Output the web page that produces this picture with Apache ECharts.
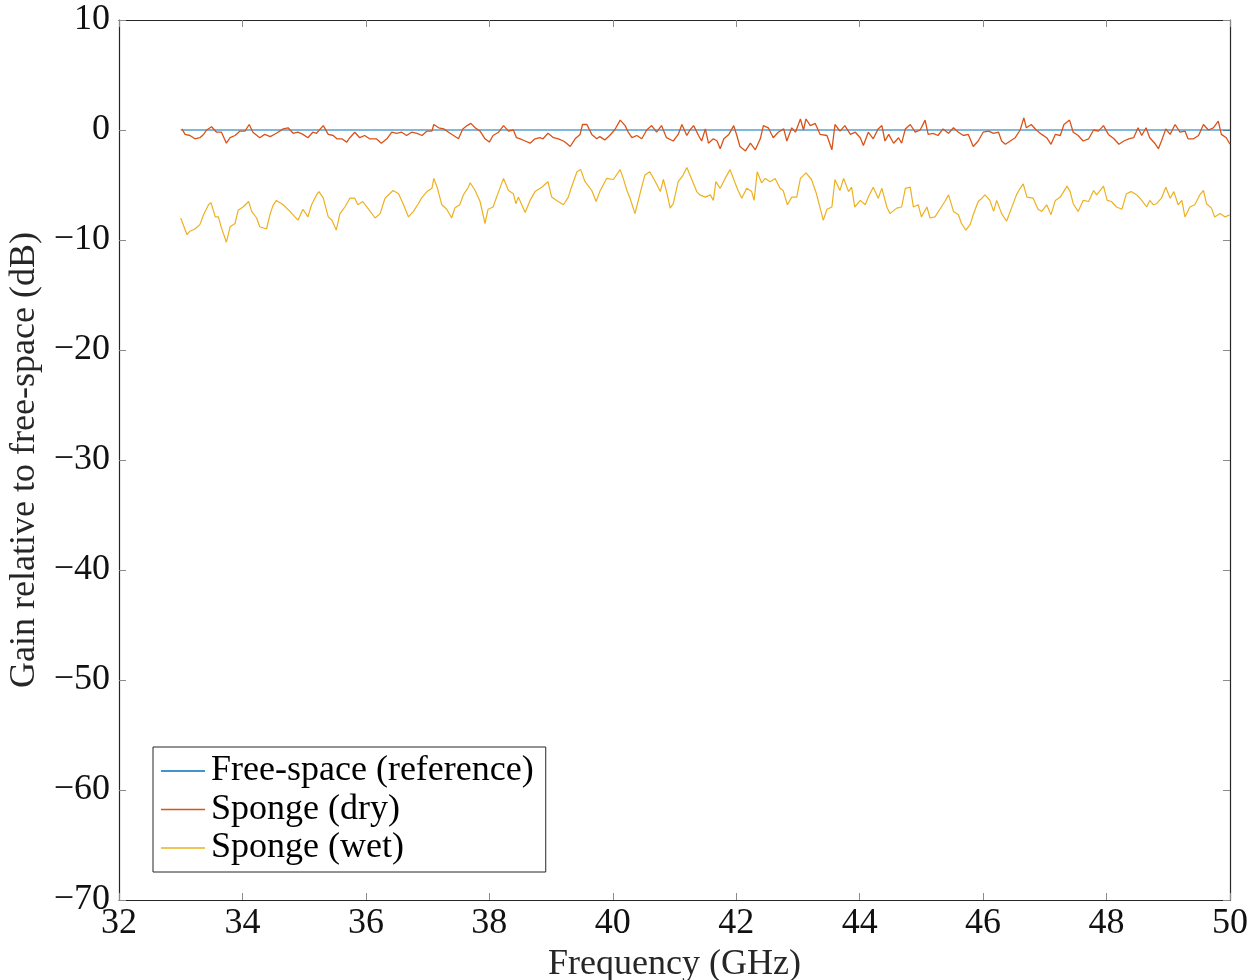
<!DOCTYPE html>
<html>
<head>
<meta charset="utf-8">
<title>Gain relative to free-space</title>
<script src="https://cdn.jsdelivr.net/npm/echarts@6/dist/echarts.min.js"></script>
<style>
  html, body { margin: 0; padding: 0; background: #fff; }
  #chart { width: 1249px; height: 980px; }
</style>
</head>
<body>
<div id="chart"></div>
<script>
// Free-space reference (flat 0 dB)
const freqRef = [33.0, 50.0];
const gainRef = [0, 0];

// Dry sponge, gain in dB
const freqDry = [33.02,33.07,33.15,33.23,33.31,33.37,33.42,33.50,33.58,33.66,33.74,33.80,33.88,33.96,34.04,34.11,34.17,34.28,34.36,34.45,34.55,34.66,34.74,34.82,34.90,34.98,35.06,35.14,35.20,35.31,35.39,35.47,35.53,35.61,35.69,35.74,35.82,35.90,35.98,36.06,36.17,36.25,36.34,36.42,36.50,36.58,36.66,36.74,36.83,36.91,36.99,37.07,37.10,37.18,37.26,37.34,37.42,37.50,37.57,37.64,37.70,37.77,37.85,37.93,38.00,38.06,38.15,38.23,38.31,38.39,38.44,38.50,38.58,38.66,38.74,38.82,38.87,38.95,39.04,39.12,39.20,39.25,39.31,39.39,39.47,39.51,39.58,39.66,39.74,39.79,39.87,39.95,40.03,40.12,40.20,40.25,40.31,40.39,40.47,40.55,40.63,40.71,40.79,40.87,40.98,41.06,41.12,41.20,41.25,41.31,41.39,41.44,41.50,41.55,41.63,41.69,41.74,41.80,41.88,41.96,42.01,42.06,42.15,42.23,42.31,42.39,42.44,42.52,42.60,42.68,42.77,42.82,42.90,42.96,43.04,43.09,43.13,43.20,43.28,43.36,43.47,43.55,43.60,43.68,43.76,43.85,43.93,44.01,44.06,44.14,44.22,44.30,44.36,44.41,44.47,44.55,44.63,44.68,44.74,44.82,44.90,44.98,45.06,45.11,45.19,45.27,45.35,45.44,45.52,45.60,45.68,45.76,45.84,45.92,46.00,46.09,46.17,46.25,46.30,46.36,46.44,46.52,46.60,46.66,46.70,46.78,46.86,46.95,47.03,47.10,47.17,47.25,47.31,47.40,47.46,47.54,47.62,47.71,47.79,47.87,47.95,48.03,48.12,48.20,48.28,48.36,48.44,48.51,48.57,48.64,48.70,48.78,48.84,48.89,48.96,49.03,49.11,49.19,49.27,49.32,49.41,49.49,49.57,49.65,49.73,49.81,49.86,49.94,50.00];
const gainDry = [0.1,-0.4,-0.5,-0.8,-0.7,-0.4,0.0,0.3,-0.2,-0.2,-1.2,-0.7,-0.5,-0.1,-0.1,0.5,-0.2,-0.7,-0.4,-0.6,-0.3,0.1,0.2,-0.3,-0.2,-0.4,-0.7,-0.2,-0.3,0.4,-0.4,-0.5,-0.8,-0.8,-1.1,-0.7,-0.2,-0.7,-0.5,-0.8,-0.8,-1.2,-0.8,-0.2,-0.3,-0.2,-0.5,-0.2,-0.3,-0.5,-0.1,-0.1,0.5,0.2,0.1,-0.2,-0.5,-0.8,0.1,0.4,0.6,0.2,-0.1,-0.8,-1.1,-0.5,-0.2,0.4,-0.1,0.0,-0.7,-0.8,-1.0,-1.2,-0.8,-0.7,-0.8,-0.3,-0.7,-0.8,-1.0,-1.2,-1.5,-0.8,-0.4,0.5,0.5,-0.4,-0.8,-0.6,-0.9,-0.5,0.0,0.9,0.4,-0.2,-0.7,-0.5,-0.8,0.0,0.4,-0.2,0.4,-0.7,-1.0,-0.4,0.5,-0.5,0.0,0.4,-0.5,-1.0,0.1,-1.2,-0.8,-1.0,-1.7,-0.8,-0.4,0.4,-0.5,-1.5,-1.9,-1.2,-1.8,-0.8,0.4,0.2,-0.7,-0.2,0.1,-1.0,0.2,-0.2,1.0,0.0,1.0,0.4,0.6,-0.4,-0.5,-1.8,0.5,-0.1,0.4,-0.4,-0.2,-0.7,-1.4,-0.2,-0.8,0.1,0.4,-1.0,-0.4,-1.2,-0.7,-1.2,0.1,0.5,-0.2,0.0,0.9,-0.4,-0.3,-0.5,0.1,-0.3,0.2,-0.2,-0.5,-0.4,-1.5,-1.0,-0.2,-0.1,-0.3,-0.2,-1.0,-1.3,-1.0,-0.7,0.0,1.1,0.2,0.5,0.0,-0.4,-0.7,-1.3,-0.4,-0.5,0.5,0.9,-0.2,-0.5,-1.0,-0.8,0.0,-0.1,0.4,-0.4,-0.8,-1.3,-1.0,-0.8,-0.7,0.2,-0.5,0.2,-0.7,-1.2,-1.7,-1.0,0.1,-0.4,0.5,-0.2,-0.1,-0.8,-0.8,-0.5,0.5,0.0,0.2,0.8,-0.4,-0.7,-1.3];

// Wet sponge, gain in dB
const freqWet = [33.00,33.10,33.15,33.23,33.31,33.37,33.45,33.49,33.56,33.61,33.66,33.74,33.80,33.88,33.93,34.01,34.10,34.15,34.23,34.28,34.39,34.45,34.50,34.55,34.66,34.77,34.85,34.90,34.98,35.06,35.12,35.20,35.24,35.31,35.39,35.45,35.52,35.58,35.66,35.74,35.82,35.87,35.95,36.03,36.15,36.23,36.31,36.44,36.53,36.61,36.69,36.77,36.85,36.90,36.99,37.07,37.10,37.16,37.23,37.31,37.39,37.44,37.52,37.58,37.66,37.69,37.77,37.85,37.93,37.98,38.06,38.15,38.23,38.31,38.39,38.43,38.47,38.58,38.66,38.74,38.85,38.95,39.01,39.09,39.20,39.28,39.33,39.42,39.48,39.55,39.66,39.73,39.79,39.90,40.01,40.12,40.17,40.23,40.28,40.36,40.44,40.52,40.60,40.69,40.77,40.82,40.88,40.93,40.98,41.06,41.14,41.20,41.28,41.36,41.41,41.50,41.58,41.63,41.67,41.74,41.82,41.90,41.98,42.03,42.09,42.17,42.25,42.29,42.34,42.41,42.47,42.55,42.63,42.71,42.76,42.83,42.90,42.98,43.04,43.13,43.22,43.30,43.36,43.41,43.47,43.55,43.60,43.68,43.74,43.82,43.87,43.92,44.01,44.09,44.14,44.22,44.30,44.36,44.44,44.49,44.60,44.68,44.74,44.82,44.87,44.95,45.00,45.09,45.14,45.22,45.30,45.38,45.44,45.52,45.60,45.65,45.72,45.79,45.84,45.92,45.98,46.03,46.11,46.17,46.22,46.30,46.38,46.46,46.54,46.60,46.65,46.71,46.81,46.89,46.95,47.03,47.10,47.17,47.25,47.36,47.41,47.46,47.54,47.62,47.71,47.79,47.84,47.95,48.01,48.08,48.16,48.25,48.32,48.40,48.49,48.57,48.65,48.70,48.76,48.81,48.89,48.96,49.03,49.09,49.16,49.22,49.27,49.35,49.43,49.51,49.57,49.62,49.70,49.75,49.84,49.92,50.00];
const gainWet = [-8.0,-9.5,-9.2,-9.0,-8.6,-7.7,-6.8,-6.6,-7.9,-7.9,-8.9,-10.2,-8.8,-8.5,-7.3,-7.0,-6.5,-7.4,-8.0,-8.8,-9.0,-7.6,-6.8,-6.4,-6.8,-7.4,-7.9,-8.2,-7.2,-7.9,-6.8,-5.9,-5.6,-6.2,-7.9,-8.2,-9.1,-7.6,-7.0,-6.2,-6.2,-6.8,-6.5,-7.1,-8.0,-7.6,-6.2,-5.5,-5.8,-6.8,-7.9,-7.4,-6.7,-6.2,-5.6,-5.3,-4.4,-5.3,-6.8,-7.2,-8.0,-7.1,-6.8,-5.9,-5.2,-4.8,-5.5,-6.5,-8.5,-7.2,-7.0,-5.6,-4.4,-5.5,-5.8,-6.7,-6.1,-7.5,-6.4,-5.6,-5.2,-4.7,-6.1,-6.4,-6.8,-6.1,-5.2,-3.8,-3.6,-4.7,-5.5,-6.5,-5.6,-4.4,-4.5,-3.6,-4.4,-5.5,-6.2,-7.6,-5.8,-4.1,-3.8,-4.7,-5.6,-4.5,-5.8,-7.1,-6.7,-4.7,-4.1,-3.4,-4.5,-5.6,-5.9,-6.1,-5.9,-6.4,-4.7,-5.3,-4.4,-3.6,-4.8,-5.5,-6.2,-5.3,-5.6,-6.4,-3.8,-4.8,-4.4,-4.7,-4.4,-5.3,-5.5,-6.8,-6.1,-6.1,-4.4,-3.9,-4.5,-5.8,-7.1,-8.2,-7.2,-7.0,-4.5,-5.5,-4.4,-5.6,-5.2,-7.0,-6.4,-6.8,-6.1,-5.2,-6.2,-5.3,-7.0,-7.6,-7.1,-7.0,-5.3,-5.2,-7.0,-6.8,-7.9,-7.0,-8.0,-7.9,-7.2,-6.5,-5.9,-7.4,-7.7,-8.5,-9.1,-8.6,-7.7,-6.5,-6.2,-5.9,-6.4,-7.4,-6.4,-7.6,-8.3,-7.1,-5.9,-5.3,-4.9,-6.1,-6.2,-7.2,-7.4,-6.8,-7.7,-6.4,-6.1,-5.1,-5.6,-6.7,-7.4,-6.4,-6.5,-5.5,-5.9,-5.1,-6.4,-6.5,-7.0,-7.2,-5.8,-5.6,-5.9,-6.4,-7.0,-6.4,-6.8,-6.7,-6.2,-5.2,-6.2,-5.6,-6.8,-6.4,-7.9,-7.0,-6.8,-5.9,-5.5,-6.7,-7.1,-7.9,-7.6,-7.9,-7.7];

// Axis ticks
const xTicks = [32, 34, 36, 38, 40, 42, 44, 46, 48, 50];
const yTicks = [-70, -60, -50, -40, -30, -20, -10, 0, 10];

const seriesNames = ['Free-space (reference)', 'Sponge (dry)', 'Sponge (wet)'];
const seriesColors = ['#0072BD', '#D95319', '#EDB120'];

const zip = (xs, ys) => xs.map((x, i) => [x, ys[i]]);
const FONT = '"Liberation Serif", "DejaVu Serif", serif';
const minus = v => (v < 0 ? '\u2212' + Math.abs(v) : String(v));

const tickStyle = { show: true, inside: true, length: 7, lineStyle: { color: '#8a8a8a', width: 1 } };
const lineAxis = { show: true, onZero: false, lineStyle: { color: '#262626', width: 1.2 } };

const chart = echarts.init(document.getElementById('chart'), null, { renderer: 'canvas' });
chart.setOption({
  backgroundColor: '#ffffff',
  animation: false,
  textStyle: { fontFamily: FONT },
  grid: { left: 119, right: 19, top: 20, bottom: 80, containLabel: false, outerBoundsMode: 'none' },
  xAxis: [
    {
      type: 'value', min: xTicks[0], max: xTicks[xTicks.length - 1], interval: 2,
      position: 'bottom',
      name: 'Frequency (GHz)', nameLocation: 'middle', nameGap: 44,
      nameTextStyle: { fontFamily: FONT, fontSize: 36, color: '#262626' },
      axisLine: lineAxis, axisTick: tickStyle,
      axisLabel: { fontFamily: FONT, fontSize: 36, color: '#111', margin: 6 },
      splitLine: { show: false }
    },
    {
      type: 'value', min: xTicks[0], max: xTicks[xTicks.length - 1], interval: 2,
      position: 'top',
      axisLine: lineAxis, axisTick: tickStyle,
      axisLabel: { show: false }, splitLine: { show: false }
    }
  ],
  yAxis: [
    {
      type: 'value', min: yTicks[0], max: yTicks[yTicks.length - 1], interval: 10,
      position: 'left',
      name: 'Gain relative to free-space (dB)', nameLocation: 'middle', nameGap: 74,
      nameRotate: 90,
      nameTextStyle: { fontFamily: FONT, fontSize: 36, color: '#262626' },
      axisLine: lineAxis, axisTick: tickStyle,
      axisLabel: { fontFamily: FONT, fontSize: 36, color: '#111', margin: 9, formatter: minus },
      splitLine: { show: false }
    },
    {
      type: 'value', min: yTicks[0], max: yTicks[yTicks.length - 1], interval: 10,
      position: 'right',
      axisLine: lineAxis, axisTick: tickStyle,
      axisLabel: { show: false }, splitLine: { show: false }
    }
  ],
  legend: {
    orient: 'vertical',
    left: 153, top: 747,
    backgroundColor: '#ffffff',
    borderColor: '#262626', borderWidth: 1,
    padding: [6, 12, 6, 8],
    itemWidth: 44, itemHeight: 1.4, itemGap: 2.5,
    icon: 'rect',
    textStyle: { fontFamily: FONT, fontSize: 36, color: '#000', lineHeight: 36, padding: [0, 0, 0, 1] },
    data: seriesNames
  },
  series: [
    {
      name: seriesNames[0], type: 'line', data: zip(freqRef, gainRef),
      symbol: 'none', color: seriesColors[0],
      lineStyle: { width: 1.2, color: seriesColors[0] }, z: 3
    },
    {
      name: seriesNames[1], type: 'line', data: zip(freqDry, gainDry),
      symbol: 'none', color: seriesColors[1],
      lineStyle: { width: 1.3, color: seriesColors[1] }, z: 4
    },
    {
      name: seriesNames[2], type: 'line', data: zip(freqWet, gainWet),
      symbol: 'none', color: seriesColors[2],
      lineStyle: { width: 1.2, color: seriesColors[2] }, z: 2
    }
  ]
});
</script>
</body>
</html>
